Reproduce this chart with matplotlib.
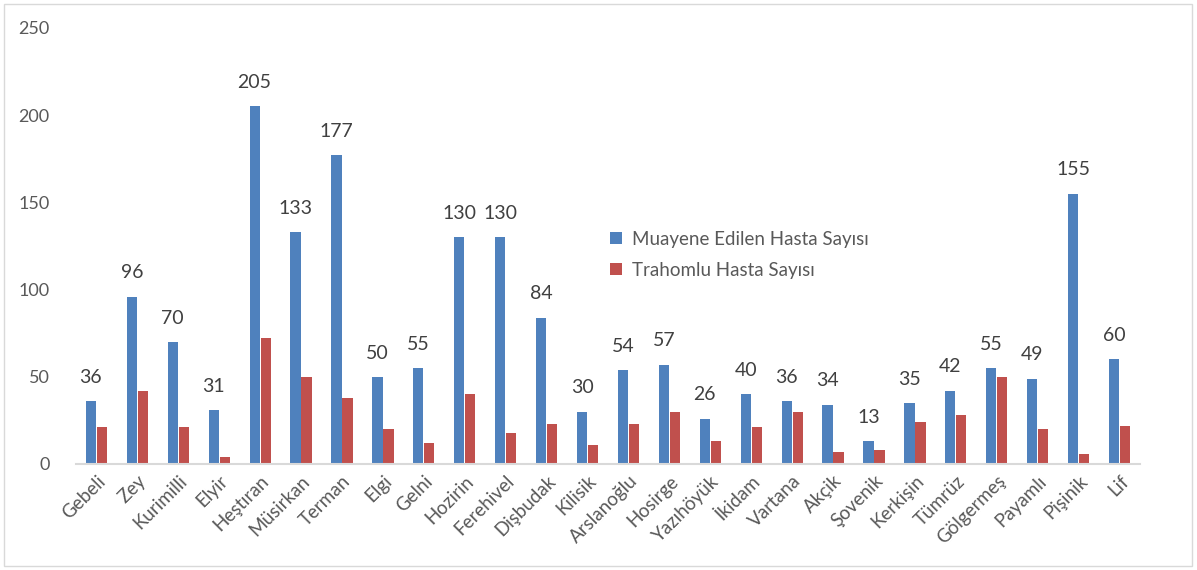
import matplotlib
matplotlib.use("Agg")
import matplotlib.pyplot as plt
from matplotlib.patches import Rectangle
import numpy as np

plt.rcParams['font.family'] = ['Lato', 'DejaVu Sans']

categories = ["Gebeli", "Zey", "Kurimilli", "Elyir", "Heştıran", "Müsirkan", "Terman", "Elgi",
              "Gelni", "Hozirin", "Ferehivel", "Dişbudak", "Kilisik", "Arslanoğlu", "Hosirge",
              "Yazıhöyük", "İkidam", "Vartana", "Akçik", "Şovenik", "Kerkişin", "Tümrüz",
              "Gölgermeş", "Payamlı", "Pişinik", "Lif"]
examined = [36, 96, 70, 31, 205, 133, 177, 50, 55, 130, 130, 84, 30, 54, 57, 26, 40, 36, 34,
            13, 35, 42, 55, 49, 155, 60]
trachoma = [21, 42, 21, 4, 72, 50, 38, 20, 12, 40, 18, 23, 11, 23, 30, 13, 21, 30, 7,
            8, 24, 28, 50, 20, 6, 22]
yticks = [0, 50, 100, 150, 200, 250]

blue = "#4F81BD"
red = "#C0504D"
txt = "#595959"

fig = plt.figure(figsize=(11.97, 5.70), dpi=100)
ax = fig.add_axes([76/1197, 1-464/570, (1140-76)/1197, (464-28)/570])

n = len(categories)
x = np.arange(n)
w = 0.25
ax.bar(x - w/2 - 0.01, examined, width=w, color=blue, label="Muayene Edilen Hasta Sayısı")
ax.bar(x + w/2 + 0.01, trachoma, width=w, color=red, label="Trahomlu Hasta Sayısı")

for xi, v in zip(x, examined):
    ax.annotate(str(v), (xi - w/2 - 0.01, v), xytext=(0, 11), textcoords="offset points",
                ha="center", va="bottom", fontsize=14, color="#404040")

ax.set_xlim(-0.5, n - 0.5)
ax.set_ylim(0, 250)
ax.set_yticks(yticks)
ax.set_xticks(x)
ax.set_xticklabels(categories, rotation=45, ha="right", rotation_mode="anchor",
                   fontsize=13.5, color=txt)
ax.tick_params(axis="y", length=0, labelsize=13, labelcolor=txt, pad=19)
ax.tick_params(axis="x", length=0, pad=6)
for s in ["top", "right", "left"]:
    ax.spines[s].set_visible(False)
ax.spines["bottom"].set_color("#D9D9D9")
ax.spines["bottom"].set_linewidth(1.5)

leg = ax.legend(loc="center left", bbox_to_anchor=(0.486, 0.48), frameon=False,
                fontsize=13.5, handlelength=0.65, handleheight=0.65, handletextpad=0.5,
                labelspacing=0.75)
for t in leg.get_texts():
    t.set_color(txt)

fig.patches.append(Rectangle((4/1197, 4/570), 1188/1197, 562/570, transform=fig.transFigure,
                             fill=False, edgecolor="#D9D9D9", linewidth=1))

fig.savefig("out.png", dpi=100)
